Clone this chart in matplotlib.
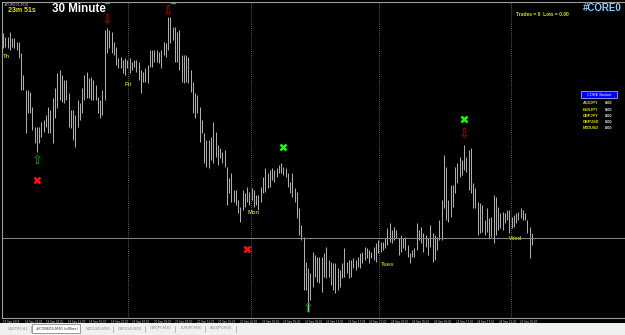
import numpy as np
import matplotlib
matplotlib.use("Agg")
import matplotlib.pyplot as plt

# M30 bars (index points, no price scale shown)
highs = [967, 963, 963, 968, 962, 962, 958, 958, 947, 925, 910, 910, 908, 893, 873, 873, 873, 878, 880, 885,
         893, 890, 902, 912, 927, 930, 925, 920, 920, 907, 890, 890, 885, 900, 897, 912, 925, 928, 922, 923,
         920, 915, 903, 900, 910, 970, 972, 970, 968, 958, 953, 942, 943, 940, 942,
         940, 942, 938, 940, 940, 938, 930, 928, 932, 935, 950, 950, 950, 950, 948, 950, 958, 957, 983, 983,
         973, 973, 968, 970, 945, 945, 945, 943, 930, 918, 907, 905, 893, 880, 867, 860, 860, 863, 878, 868,
         855, 852, 848, 850, 833, 822, 827, 810, 810, 800, 793, 810, 807,
         813, 808, 812, 810, 805, 805, 813, 823, 832, 827, 830, 832, 830, 832, 835, 837, 833, 832, 827, 818,
         827, 812, 808, 792, 775, 763, 738, 732, 727, 748, 745, 743, 743, 743, 747, 753, 740, 738, 737, 737,
         732, 730, 737, 752, 738, 740, 740, 742, 740, 743, 747, 748, 753, 752, 750, 748, 753, 757, 760,
         758, 758, 762, 772, 777, 770, 773, 770, 762, 765, 762, 763, 755, 747, 750, 752, 777, 770, 773, 767,
         765, 762, 775, 767, 765, 763, 780, 800, 845, 833, 800, 815, 815, 833, 837, 843, 840, 855, 843, 850,
         852, 817, 812, 798, 797, 795, 780, 792, 782, 783, 805, 803, 793, 787, 788, 787, 790, 790, 783, 785,
         787, 788, 792, 790, 787, 780, 773, 767]
lows = [952, 953, 952, 950, 953, 952, 950, 942, 910, 910, 867, 887, 887, 870, 857, 848, 857, 863, 868, 873,
        867, 867, 857, 882, 892, 900, 898, 897, 900, 873, 872, 860, 853, 873, 880, 887, 900, 902, 902, 900,
        900, 900, 887, 882, 885, 900, 947, 952, 947, 945, 935, 932, 932, 927, 925,
        932, 927, 930, 933, 928, 920, 907, 918, 918, 917, 933, 933, 938, 938, 937, 932, 945, 943, 950, 957,
        960, 938, 938, 930, 918, 917, 918, 917, 908, 887, 882, 887, 858, 867, 837, 833, 832, 840, 837, 843,
        835, 842, 837, 833, 795, 807, 798, 798, 795, 787, 778, 790, 793,
        798, 795, 800, 793, 795, 790, 798, 807, 808, 812, 813, 820, 818, 823, 827, 827, 825, 823, 813, 807,
        803, 798, 782, 765, 760, 710, 710, 688, 700, 713, 723, 718, 717, 708, 723, 722, 723, 715, 710, 707,
        710, 713, 722, 723, 727, 722, 723, 732, 730, 733, 732, 737, 740, 742, 737, 742, 740, 738, 747,
        748, 750, 752, 755, 758, 757, 760, 762, 745, 748, 752, 750, 743, 737, 743, 743, 750, 760, 757, 748,
        753, 745, 753, 738, 740, 750, 760, 760, 792, 780, 778, 783, 793, 807, 817, 823, 825, 830, 828, 810,
        807, 792, 792, 765, 767, 768, 765, 768, 762, 763, 757, 765, 770, 772, 770, 777, 780, 767, 772, 773,
        777, 780, 782, 780, 780, 767, 742, 755]

time_labels = ["19 Sep 2019", "19 Sep 04:00", "19 Sep 08:00", "19 Sep 12:00", "19 Sep 16:00", "19 Sep 20:00",
               "20 Sep 00:00", "20 Sep 04:00", "20 Sep 08:00", "20 Sep 12:00", "20 Sep 16:00", "20 Sep 20:00",
               "23 Sep 01:00", "23 Sep 05:00", "23 Sep 09:00", "23 Sep 13:00", "23 Sep 17:00", "23 Sep 21:00",
               "24 Sep 01:00", "24 Sep 05:00", "24 Sep 09:00", "24 Sep 13:00", "24 Sep 17:00", "24 Sep 21:00",
               "25 Sep 01:00"]
day_breaks = [55.5, 109.5, 166.5, 224.5]
day_names = ["Th", "Fri", "Mon", "Tues", "Wed"]
day_idx = [0, 54, 108, 167, 224]
day_lvl = [944, 915, 787, 735, 762]

buy_idx, buy_lvl = [15, 135], [840, 691]
sell_idx, sell_lvl = [46, 73, 204], [979, 988, 865]
top_idx = [46, 75]
redx_idx, redx_lvl = [15, 108], [820, 751]
grnx_idx, grnx_lvl = [124, 204], [853, 881]
bid_level = 762

pairs = ["AUDJPY", "EURJPY", "GBPJPY", "GBPUSD", "NZDUSD"]
pair_vals = [0.00, 0.00, 0.00, 0.00, 0.00]
tabs = ["USDTRY,H1", "#CORE05,M30 (offline)", "NZDUSD,M30", "GBPUSD,M30", "GBPJPY,M30", "EURJPY,M30", "AUDJPY,M30"]

W, H = 625, 335
fig = plt.figure(figsize=(W / 100, H / 100), dpi=100, facecolor="black")
ax = fig.add_axes([2 / W, 17 / H, 623 / W, 316 / H])
ax.set_facecolor("black")

n = len(highs)
idx = np.arange(n)
ppb = (532 - 3) / (n - 1)
ax.set_xlim(-1 / ppb, 622 / ppb)
ax.set_ylim(682, 998)

ax.vlines(idx, lows, highs, color="#adadad", lw=0.75)
ax.axhline(bid_level, color="#8a8a8a", lw=0.7)
for b in day_breaks:
    ax.axvline(b, color="#7a7a7a", lw=0.6, ls=(0, (1, 1.5)))

for i, name in enumerate(day_names):
    ax.text(day_idx[i], day_lvl[i], name, color="#b8b800", fontsize=4.2, fontweight="bold",
            family="Liberation Sans", va="center", ha="left")

for i in range(len(buy_idx)):
    ax.text(buy_idx[i], buy_lvl[i], "\u21e7", color="#00b000", fontsize=9.5, ha="center", va="center",
            family="DejaVu Sans")
for i in range(len(sell_idx)):
    ax.text(sell_idx[i], sell_lvl[i], "\u21e9", color="#c00000", fontsize=9.5, ha="center", va="center",
            family="DejaVu Sans")
ax.plot(top_idx, [999] * len(top_idx), ls="none", marker="s", ms=3.5, color="#00d000", clip_on=True)
ax.plot(redx_idx, redx_lvl, ls="none", marker="x", ms=4.5, mew=1.8, color="#ff1010")
ax.plot(grnx_idx, grnx_lvl, ls="none", marker="x", ms=4.5, mew=1.8, color="#10ff10")

for s in ["left", "top", "bottom"]:
    ax.spines[s].set_color("#9a9a9a")
    ax.spines[s].set_linewidth(0.8)
ax.spines["right"].set_visible(False)
ax.set_xticks([])
ax.set_yticks([])

# time axis labels under the chart
for k, lab in enumerate(time_labels):
    fig.text((3 + k * 21.55) / W, 1 - 321.5 / H, lab, color="#cfcfcf", fontsize=1.9, va="center", ha="left")

# header texts
fig.text(4 / W, 1 - 4.5 / H, "#CORE05,M30", color="#bfbfbf", fontsize=2.4, va="center")
fig.text(8 / W, 1 - 10.5 / H, "23m 51s", color="#e6e600", fontsize=5, fontweight="bold",
         family="Liberation Sans", va="center")
fig.text(52 / W, 1 - 9 / H, "30 Minute", color="white", fontsize=8.4, fontweight="bold",
         family="Liberation Sans", va="center")
fig.text(516 / W, 1 - 14 / H, "Trades = 0  Lots = 0.00", color="#e0e000", fontsize=3.5, fontweight="bold",
         family="Liberation Sans", va="center")
fig.text(583 / W, 1 - 8 / H, "#CORE0", color="#87cefa", fontsize=7, fontweight="bold",
         family="Liberation Sans", va="center")

# basket panel
fig.patches.append(plt.Rectangle((581 / W, 1 - 98 / H), 36 / W, 7 / H, transform=fig.transFigure,
                                 facecolor="#0000ff", edgecolor="#a0a0ff", lw=0.6))
fig.text(599 / W, 1 - 94.5 / H, "CORE Basket", color="white", fontsize=2.8, ha="center", va="center",
         family="Liberation Sans")
for i, p in enumerate(pairs):
    yy = 1 - (103.5 + i * 6.1) / H
    fig.text(583 / W, yy, p, color="#e0e000", fontsize=2.8, fontweight="bold", family="Liberation Sans",
             va="center")
    fig.text(605 / W, yy, "%.2f" % pair_vals[i], color="#e8e8e8", fontsize=2.8, fontweight="bold",
             family="Liberation Sans", va="center")

# tab strip
fig.patches.append(plt.Rectangle((0, 0), 1, 12 / H, transform=fig.transFigure, facecolor="#f0f0f0",
                                 edgecolor="none"))
tab_x = [3, 32, 81, 114, 146, 176, 206, 237]
for i, t in enumerate(tabs):
    x0, x1 = tab_x[i], tab_x[i + 1]
    if i == 1:
        fig.patches.append(plt.Rectangle((x0 / W, 2 / H), (x1 - x0 - 1) / W, 9 / H, transform=fig.transFigure,
                                         facecolor="white", edgecolor="#8c8c8c", lw=0.6))
    else:
        fig.lines.append(plt.Line2D([(x1 - 1) / W] * 2, [3 / H, 9 / H], transform=fig.transFigure,
                                    color="#a0a0a0", lw=0.5))
    fig.text((x0 + x1) / 2 / W, 6.5 / H, t, color="#303030" if i == 1 else "#8a8a8a", fontsize=2.6,
             ha="center", va="center")

fig.savefig("out.png", dpi=100, facecolor="black")
